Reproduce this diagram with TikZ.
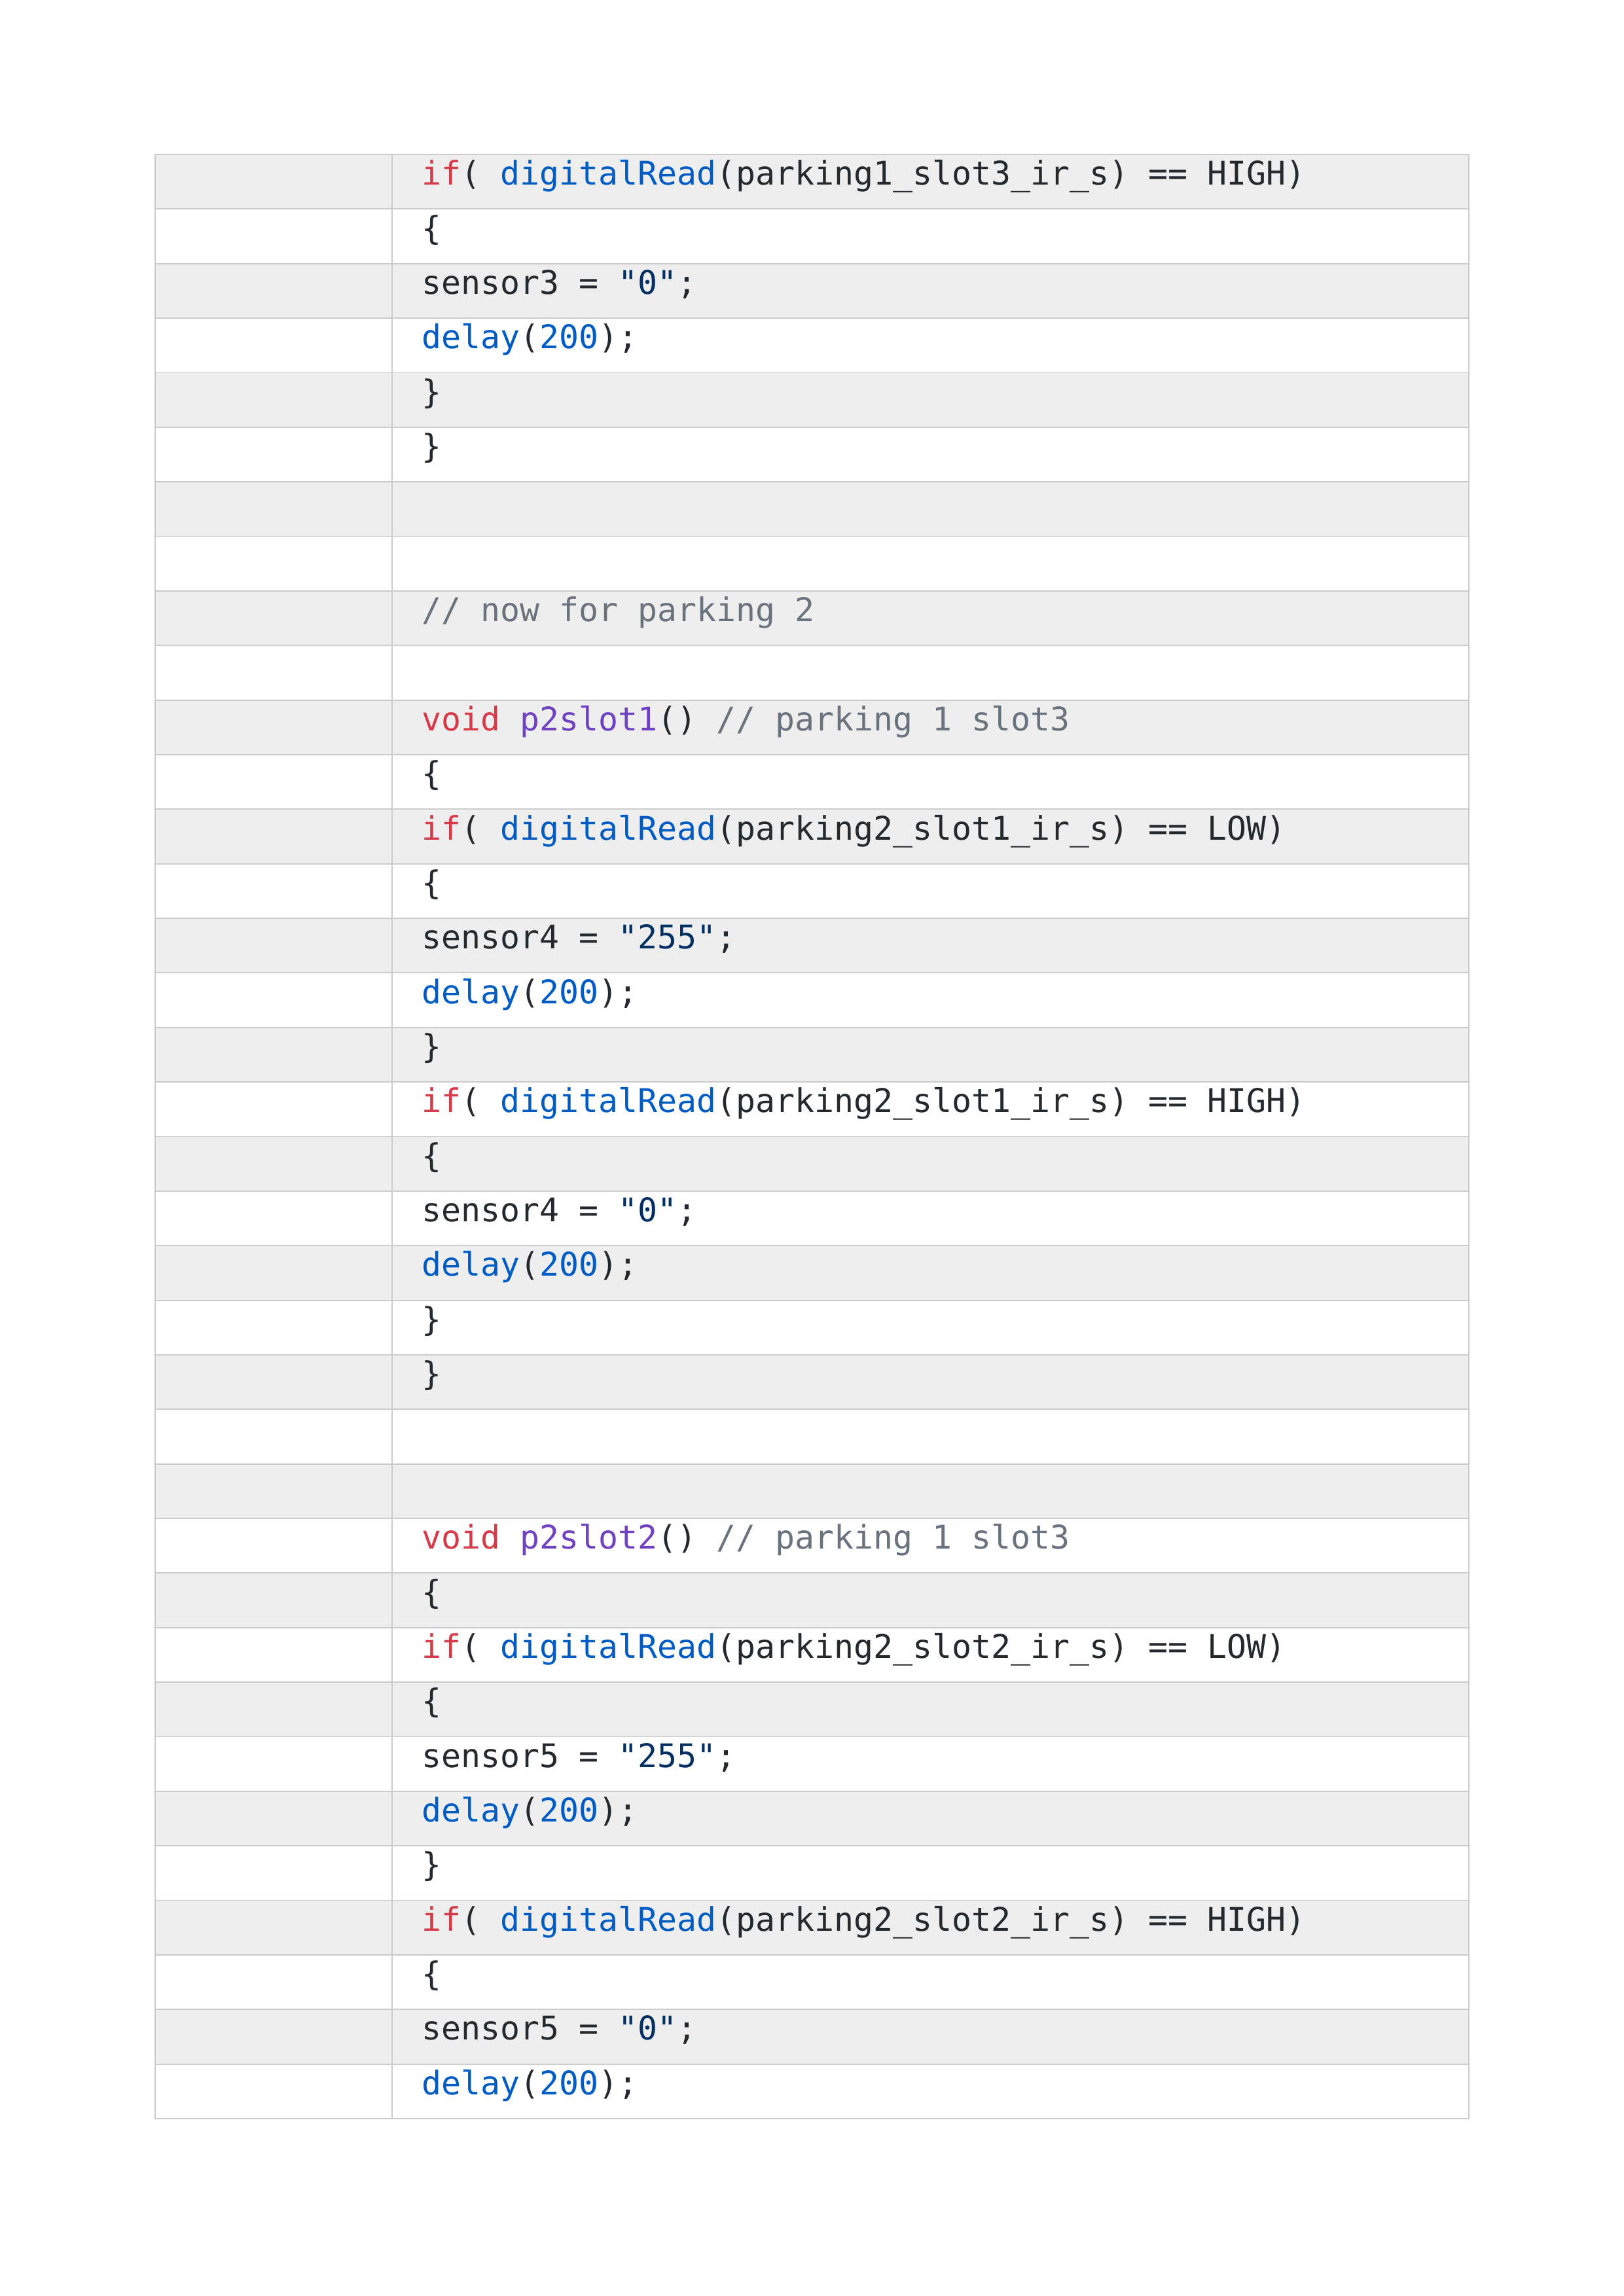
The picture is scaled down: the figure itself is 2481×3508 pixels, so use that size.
\documentclass[tikz,border=0pt]{standalone}
\usepackage{fontspec}
\setmonofont{DejaVu Sans Mono}
\usetikzlibrary{positioning}

\definecolor{kwred}{HTML}{D73A49}
\definecolor{fnblue}{HTML}{005CC5}
\definecolor{strnavy}{HTML}{032F62}
\definecolor{nmpurple}{HTML}{6F42C1}
\definecolor{cmgray}{HTML}{6A737D}
\definecolor{txtdark}{HTML}{24292E}
\definecolor{stripe}{HTML}{EEEEEE}
\definecolor{rule}{HTML}{CCCCCC}

\newcommand{\ckw}[1]{\textcolor{kwred}{#1}}
\newcommand{\cfn}[1]{\textcolor{fnblue}{#1}}
\newcommand{\cstr}[1]{\textcolor{strnavy}{#1}}
\newcommand{\cnm}[1]{\textcolor{nmpurple}{#1}}
\newcommand{\ccm}[1]{\textcolor{cmgray}{#1}}

\begin{document}
\begin{tikzpicture}[x=0.2409pt,y=-0.2409pt,
  rowbox/.style={draw=rule,line width=0.45pt,minimum width=483.5pt,minimum height=20.08pt,inner sep=0pt},
  code/.style={anchor=base west,inner sep=0pt,text=txtdark,font=\ttfamily\fontsize{12}{14}\selectfont}]
\useasboundingbox (0,0) rectangle (2481,3508);

% table rows, grey on odd ones
\foreach \i in {1,...,36}{
  \pgfmathtruncatemacro{\odd}{mod(\i,2)}
  \ifnum\odd=1 \def\rowfill{stripe}\else \def\rowfill{white}\fi
  \node (row\i) [rowbox,fill=\rowfill] at (1240.5,{236+83.36*(\i-0.5)}) {};
}
\coordinate (divtop) at (599,236);
\coordinate (divbot) at (599,3237);
\draw[rule,line width=0.45pt] (divtop) -- (divbot);

% code lines
\node (t1) [code] at ([shift={(408,5)}]row1.west) {\ckw{if}( \cfn{digitalRead}(parking1\_slot3\_ir\_s) == HIGH)};
\node (t2) [code] at ([shift={(408,5)}]row2.west) {\{};
\node (t3) [code] at ([shift={(408,5)}]row3.west) {sensor3 = \cstr{"0"};};
\node (t4) [code] at ([shift={(408,5)}]row4.west) {\cfn{delay}(\cfn{200});};
\node (t5) [code] at ([shift={(408,5)}]row5.west) {\}};
\node (t6) [code] at ([shift={(408,5)}]row6.west) {\}};
\node (t9) [code] at ([shift={(408,5)}]row9.west) {\ccm{// now for parking 2}};
\node (t11) [code] at ([shift={(408,5)}]row11.west) {\ckw{void} \cnm{p2slot1}() \ccm{// parking 1 slot3}};
\node (t12) [code] at ([shift={(408,5)}]row12.west) {\{};
\node (t13) [code] at ([shift={(408,5)}]row13.west) {\ckw{if}( \cfn{digitalRead}(parking2\_slot1\_ir\_s) == LOW)};
\node (t14) [code] at ([shift={(408,5)}]row14.west) {\{};
\node (t15) [code] at ([shift={(408,5)}]row15.west) {sensor4 = \cstr{"255"};};
\node (t16) [code] at ([shift={(408,5)}]row16.west) {\cfn{delay}(\cfn{200});};
\node (t17) [code] at ([shift={(408,5)}]row17.west) {\}};
\node (t18) [code] at ([shift={(408,5)}]row18.west) {\ckw{if}( \cfn{digitalRead}(parking2\_slot1\_ir\_s) == HIGH)};
\node (t19) [code] at ([shift={(408,5)}]row19.west) {\{};
\node (t20) [code] at ([shift={(408,5)}]row20.west) {sensor4 = \cstr{"0"};};
\node (t21) [code] at ([shift={(408,5)}]row21.west) {\cfn{delay}(\cfn{200});};
\node (t22) [code] at ([shift={(408,5)}]row22.west) {\}};
\node (t23) [code] at ([shift={(408,5)}]row23.west) {\}};
\node (t26) [code] at ([shift={(408,5)}]row26.west) {\ckw{void} \cnm{p2slot2}() \ccm{// parking 1 slot3}};
\node (t27) [code] at ([shift={(408,5)}]row27.west) {\{};
\node (t28) [code] at ([shift={(408,5)}]row28.west) {\ckw{if}( \cfn{digitalRead}(parking2\_slot2\_ir\_s) == LOW)};
\node (t29) [code] at ([shift={(408,5)}]row29.west) {\{};
\node (t30) [code] at ([shift={(408,5)}]row30.west) {sensor5 = \cstr{"255"};};
\node (t31) [code] at ([shift={(408,5)}]row31.west) {\cfn{delay}(\cfn{200});};
\node (t32) [code] at ([shift={(408,5)}]row32.west) {\}};
\node (t33) [code] at ([shift={(408,5)}]row33.west) {\ckw{if}( \cfn{digitalRead}(parking2\_slot2\_ir\_s) == HIGH)};
\node (t34) [code] at ([shift={(408,5)}]row34.west) {\{};
\node (t35) [code] at ([shift={(408,5)}]row35.west) {sensor5 = \cstr{"0"};};
\node (t36) [code] at ([shift={(408,5)}]row36.west) {\cfn{delay}(\cfn{200});};
\end{tikzpicture}
\end{document}
